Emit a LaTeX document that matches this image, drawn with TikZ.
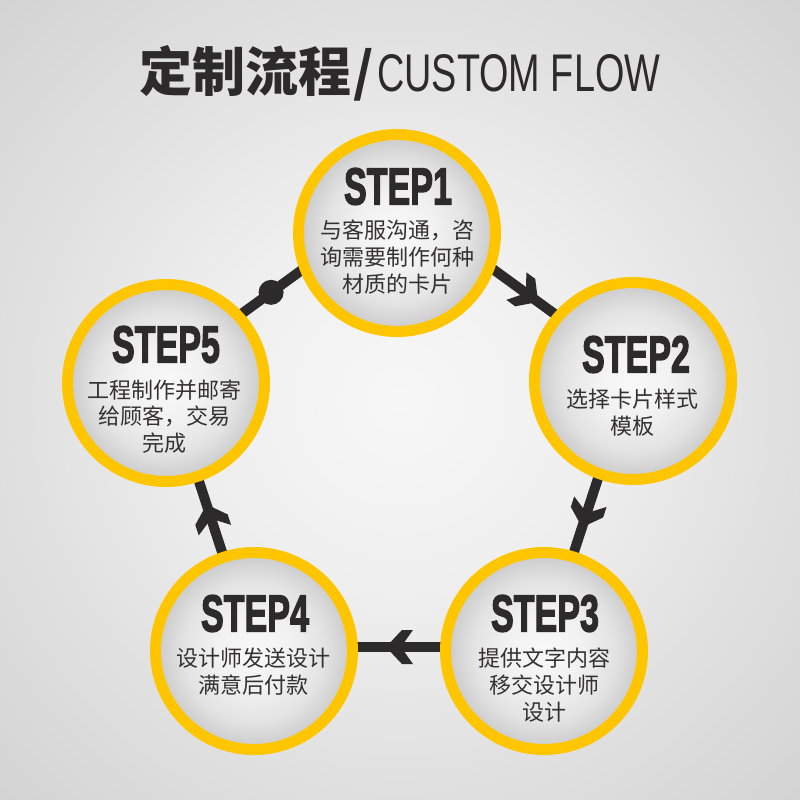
\documentclass[tikz,border=0pt]{standalone}
\usepackage{fontspec}
\usepackage{graphicx}
\usetikzlibrary{calc,decorations.markings}
\newfontfamily\cjk{Noto Sans CJK SC}
\newfontfamily\latinfont{Liberation Sans}
\newfontfamily\stepfont[FakeBold=3]{Liberation Sans Bold}
\definecolor{ringyellow}{HTML}{FFC600}
\definecolor{darkline}{HTML}{2D2A2B}
\definecolor{bodytext}{HTML}{333132}
\definecolor{bgA}{HTML}{F7F7F7}
\definecolor{bgB}{HTML}{EFEFEF}
\definecolor{bgC}{HTML}{DFDFDF}
\definecolor{bgD}{HTML}{D3D3D3}
\definecolor{cfA}{HTML}{F9F9F9}
\definecolor{cfB}{HTML}{F1F1F1}
\definecolor{cfC}{HTML}{E3E3E3}
\definecolor{cfD}{HTML}{CFCFCF}
\definecolor{cfE}{HTML}{C9C9C9}
\pgfdeclareradialshading{bgshade}{\pgfpoint{0bp}{0bp}}{color(0bp)=(bgA); color(12bp)=(bgB); color(25bp)=(bgC); color(36bp)=(bgD); color(50bp)=(bgD)}
\pgfdeclareradialshading{circfill}{\pgfpoint{0bp}{0bp}}{color(0bp)=(cfA); color(10bp)=(cfB); color(18bp)=(cfC); color(23.5bp)=(cfD); color(25bp)=(cfE); color(50bp)=(cfE)}
\tikzset{
  conn/.style={draw=darkline, line width=10pt},
  chev/.style={postaction={decorate}, decoration={markings, mark=at position #1 with {\fill[darkline] (13.5,0) -- (-2.5,17) -- (-13.5,17) -- (-1.5,0) -- (-13.5,-17) -- (-2.5,-17) -- cycle;}}},
  stepcircle/.style={circle, minimum size=197pt, inner sep=0pt, draw=ringyellow, line width=11pt, shade, shading=circfill},
  steptitle/.style={inner sep=0pt, text=darkline, font=\stepfont\fontsize{52}{52}\selectfont},
  stepbody/.style={inner sep=0pt, align=center, text=bodytext, font=\cjk\fontsize{22}{26.8}\selectfont},
  dotnode/.style={circle, fill=darkline, minimum size=25pt, inner sep=0pt},
  titletext/.style={anchor=base west, inner sep=0pt, text=darkline}
}
\begin{document}
\begin{tikzpicture}[x=1pt, y=-1pt]
\useasboundingbox (0,0) rectangle (800,800);
\shade[shading=bgshade] (0,0) rectangle (800,800);

% pentagon of connectors
\coordinate (p1) at (398,200);
\coordinate (p2) at (633,371);
\coordinate (p3) at (543,647);
\coordinate (p4) at (253,647);
\coordinate (p5) at (163,371);
\draw[conn, chev=0.55] (p1) -- (p2);
\draw[conn, chev=0.52] (p2) -- (p3);
\draw[conn, chev=0.495] (p3) -- (p4);
\draw[conn, chev=0.47] (p4) -- (p5);
\draw[conn] (p5) -- (p1);
\node[dotnode] (dot) at ($(p5)!0.46!(p1)$) {};

% circles
\node[stepcircle] (s1) at (397,233) {};
\node[stepcircle] (s2) at (633,381) {};
\node[stepcircle] (s3) at (544,651) {};
\node[stepcircle] (s4) at (254,651) {};
\node[stepcircle] (s5) at (166,383) {};

% texts
\node[steptitle] (t1) at (398,186.5) {\scalebox{0.655}[1]{STEP1}};
\node[stepbody] (b1) at (397,257) {与客服沟通，咨\\询需要制作何种\\材质的卡片};
\node[steptitle] (t2) at (636,354.5) {\scalebox{0.655}[1]{STEP2}};
\node[stepbody] (b2) at (632.5,412.5) {选择卡片样式\\模板};
\node[steptitle] (t3) at (545,613.5) {\scalebox{0.655}[1]{STEP3}};
\node[stepbody] (b3) at (544,685) {提供文字内容\\移交设计师\\设计};
\node[steptitle] (t4) at (255,613.5) {\scalebox{0.655}[1]{STEP4}};
\node[stepbody] (b4) at (253.5,671.5) {设计师发送设计\\满意后付款};
\node[steptitle] (t5) at (166,344.5) {\scalebox{0.655}[1]{STEP5}};
\node[stepbody] (b5) at (164,416.5) {工程制作并邮寄\\给顾客，交易\\完成};

% title
\node[titletext, font=\cjk\bfseries\fontsize{53}{53}\selectfont] (tcjk) at (139,91) {定制流程};
\node[titletext, font=\cjk\bfseries\fontsize{53}{53}\selectfont] (tslash) at (353,91) {/};
\node[titletext, font=\latinfont\fontsize{53}{53}\selectfont] (tlat) at (377,91) {\resizebox{283pt}{\height}{CUSTOM FLOW}};
\end{tikzpicture}
\end{document}
